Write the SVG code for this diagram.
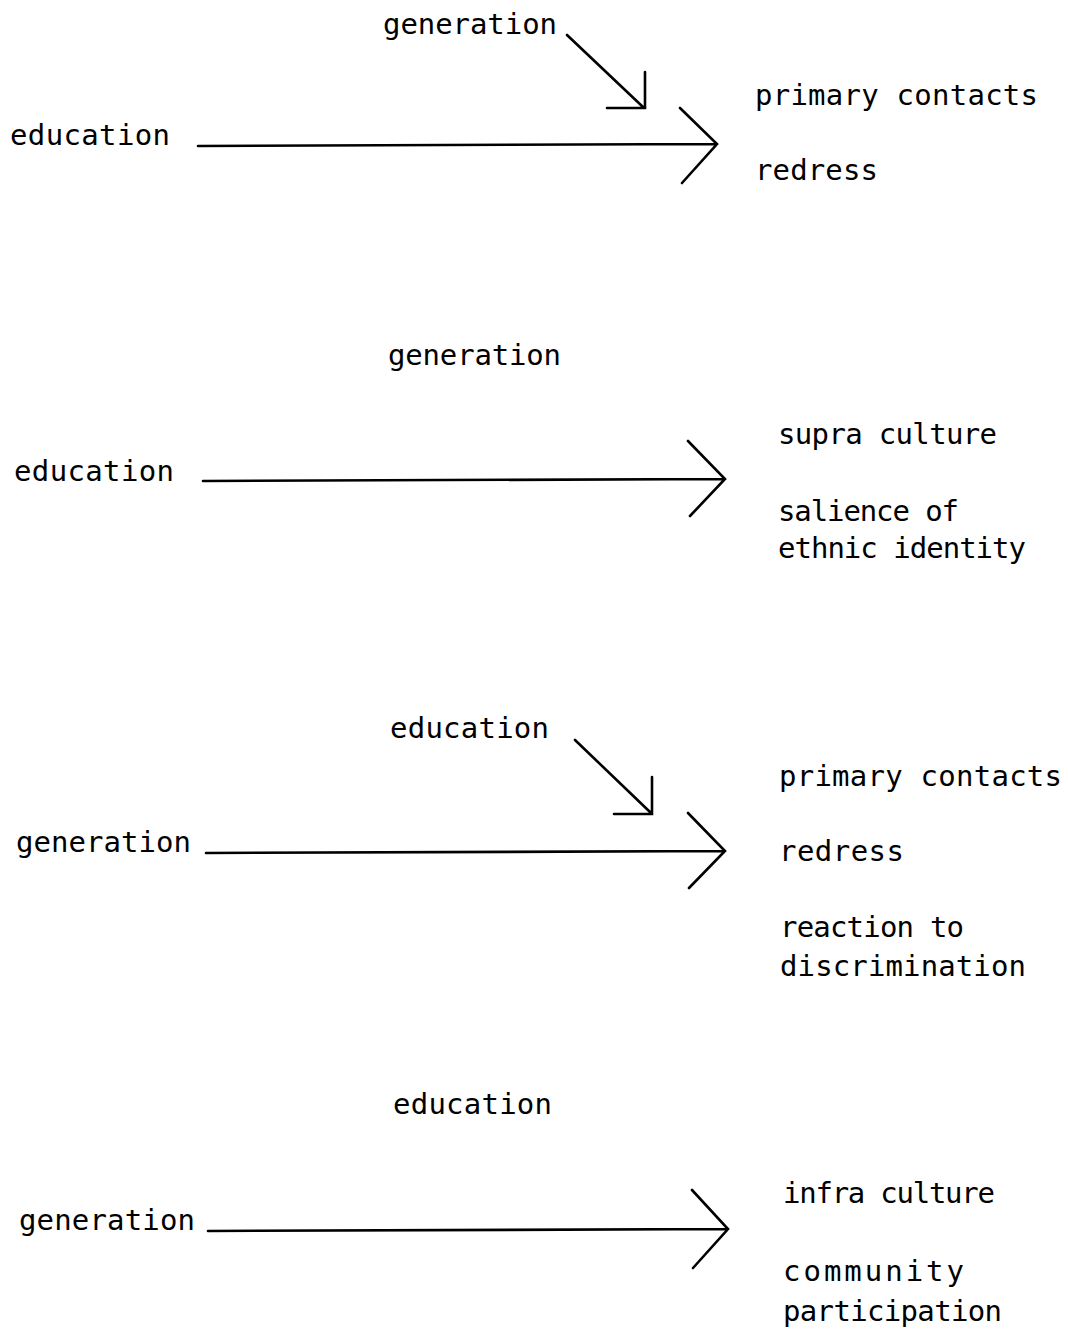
<svg xmlns="http://www.w3.org/2000/svg" width="1068" height="1331" viewBox="0 0 1068 1331">
<style>
text{font-family:"DejaVu Sans Mono","Liberation Mono",monospace;font-size:29px;fill:#000}
.c{stroke:#000;stroke-width:2.6;fill:none;stroke-linecap:round;stroke-linejoin:miter}
</style>
<rect width="1068" height="1331" fill="#fff"/>
<g id="d1-generation"><text x="383" y="34" textLength="174" lengthAdjust="spacing">generation</text></g>
<g id="d1-education"><text x="10" y="145" textLength="160" lengthAdjust="spacing">education</text></g>
<g id="d1-primary"><text x="755" y="105" textLength="283" lengthAdjust="spacing">primary contacts</text></g>
<g id="d1-redress"><text x="755" y="180" textLength="123" lengthAdjust="spacing">redress</text></g>
<g id="d2-generation"><text x="388" y="365" textLength="173" lengthAdjust="spacing">generation</text></g>
<g id="d2-education"><text x="14" y="481" textLength="160" lengthAdjust="spacing">education</text></g>
<g id="d2-supra"><text x="778" y="444" textLength="219" lengthAdjust="spacing">supra culture</text></g>
<g id="d2-salience"><text x="778" y="521" textLength="181" lengthAdjust="spacing">salience of</text><text x="778" y="558" textLength="248" lengthAdjust="spacing">ethnic identity</text></g>
<g id="d3-education"><text x="390" y="738" textLength="159" lengthAdjust="spacing">education</text></g>
<g id="d3-generation"><text x="16" y="852" textLength="175" lengthAdjust="spacing">generation</text></g>
<g id="d3-primary"><text x="779" y="786" textLength="283" lengthAdjust="spacing">primary contacts</text></g>
<g id="d3-redress"><text x="779" y="861" textLength="125" lengthAdjust="spacing">redress</text></g>
<g id="d3-reaction"><text x="780" y="937" textLength="184" lengthAdjust="spacing">reaction to</text><text x="780" y="976" textLength="246" lengthAdjust="spacing">discrimination</text></g>
<g id="d4-education"><text x="393" y="1114" textLength="159" lengthAdjust="spacing">education</text></g>
<g id="d4-generation"><text x="19" y="1230" textLength="176" lengthAdjust="spacing">generation</text></g>
<g id="d4-infra"><text x="783" y="1203" textLength="212" lengthAdjust="spacing">infra culture</text></g>
<g id="d4-community"><text x="783" y="1281" textLength="181" lengthAdjust="spacing">community</text><text x="783" y="1321" textLength="219" lengthAdjust="spacing">participation</text></g>
<g id="connectors">
<path class="c" d="M198 146 L717 144 M680 108 L717 144 L682 183"/>
<path class="c" d="M567 35 L643 107 M645 72 V108 H607"/>
<path class="c" d="M203 481 L725 479 M688 441 L725 479 L690 516"/>
<path class="c" d="M206 853 L725 851 M688 813 L725 851 L689 888"/>
<path class="c" d="M575 740 L650 812 M652 777 V814 H614"/>
<path class="c" d="M208 1231 L728 1229 M692 1190 L728 1229 L693 1268"/>
</g>
</svg>
